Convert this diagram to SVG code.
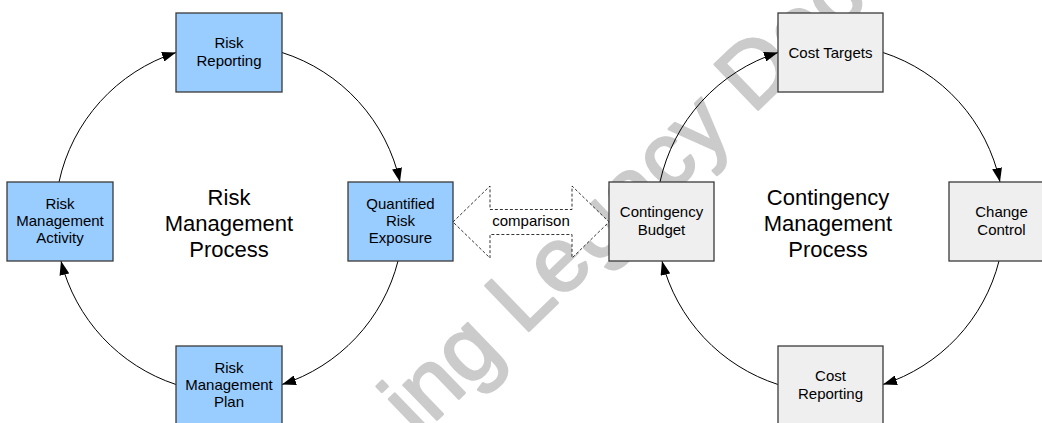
<svg xmlns="http://www.w3.org/2000/svg" width="1042" height="423" viewBox="0 0 1042 423">
  <style>
    .box-blue { fill: #99ccff; stroke: #3a3a3a; stroke-width: 1.3; }
    .box-grey { fill: #efefef; stroke: #3a3a3a; stroke-width: 1.3; }
    .lbl { font-family: "Liberation Sans", Arial, sans-serif; font-size: 15px; fill: #000; text-anchor: middle; }
    .title { font-family: "Liberation Sans", Arial, sans-serif; font-size: 22px; fill: #000; text-anchor: middle; }
    .flow { fill: none; stroke: #000; stroke-width: 1; marker-end: url(#head); }
    .compare { fill: #fff; stroke: #000; stroke-width: 0.8; stroke-dasharray: 3 2; }
    .mark { font-family: "Liberation Sans", Arial, sans-serif; font-size: 91px; fill: #cbcbcb; stroke: #cbcbcb; stroke-width: 2.5; stroke-linejoin: round; }
  </style>
  <defs>
    <marker id="head" markerUnits="userSpaceOnUse" markerWidth="14" markerHeight="10" refX="14" refY="5" orient="auto">
      <path d="M0,0 L14,5 L0,10 z" fill="#000"/>
    </marker>
  </defs>

  <rect width="1042" height="423" fill="#fff"/>

  <!-- background mark -->
  <g id="watermark" transform="translate(418,438) rotate(-44)">
    <text class="mark" x="0" y="0">ing Legacy Docu</text>
  </g>

  <!-- cycle connectors -->
  <g id="connectors">
    <path class="flow" d="M59,182 A175,175 0 0 1 176,52.5"/>
    <path class="flow" d="M282,52.5 A175,175 0 0 1 400,182"/>
    <path class="flow" d="M398,261 A175,175 0 0 1 282,384.5"/>
    <path class="flow" d="M176,384.5 A175,175 0 0 1 61,261"/>

    <path class="flow" d="M660,182 A175,175 0 0 1 778,52.5"/>
    <path class="flow" d="M883,52.5 A175,175 0 0 1 1000,182"/>
    <path class="flow" d="M999,261 A175,175 0 0 1 883,384.5"/>
    <path class="flow" d="M778,384.5 A175,175 0 0 1 662,261"/>

    <!-- double-headed comparison arrow -->
    <path class="compare" d="M453,222 L490,186 L490,209.5 L572,209.5 L572,186 L609,222 L572,258 L572,234.5 L490,234.5 L490,258 Z"/>
    <text class="lbl" x="531" y="226">comparison</text>
  </g>

  <!-- risk management cycle -->
  <g id="risk-reporting">
    <rect class="box-blue" x="176" y="13" width="106" height="79"/>
    <text class="lbl" x="229" y="48.4">Risk</text>
    <text class="lbl" x="229" y="65.6">Reporting</text>
  </g>
  <g id="risk-management-activity">
    <rect class="box-blue" x="7" y="182" width="106" height="79"/>
    <text class="lbl" x="60" y="208.7">Risk</text>
    <text class="lbl" x="60" y="226">Management</text>
    <text class="lbl" x="60" y="243.2">Activity</text>
  </g>
  <g id="quantified-risk-exposure">
    <rect class="box-blue" x="348" y="182" width="105" height="79"/>
    <text class="lbl" x="400.5" y="208.7">Quantified</text>
    <text class="lbl" x="400.5" y="226">Risk</text>
    <text class="lbl" x="400.5" y="243.2">Exposure</text>
  </g>
  <g id="risk-management-plan">
    <rect class="box-blue" x="176" y="346" width="106" height="79"/>
    <text class="lbl" x="229" y="372.7">Risk</text>
    <text class="lbl" x="229" y="390">Management</text>
    <text class="lbl" x="229" y="407.2">Plan</text>
  </g>
  <g id="risk-process-title">
    <text class="title" x="229" y="204.5">Risk</text>
    <text class="title" x="229" y="230.5">Management</text>
    <text class="title" x="229" y="256.5">Process</text>
  </g>

  <!-- contingency management cycle -->
  <g id="cost-targets">
    <rect class="box-grey" x="778" y="13" width="105" height="79"/>
    <text class="lbl" x="830.5" y="57.5">Cost Targets</text>
  </g>
  <g id="contingency-budget">
    <rect class="box-grey" x="609" y="182" width="105" height="79"/>
    <text class="lbl" x="661.5" y="217.4">Contingency</text>
    <text class="lbl" x="661.5" y="234.6">Budget</text>
  </g>
  <g id="change-control">
    <rect class="box-grey" x="949" y="182" width="105" height="79"/>
    <text class="lbl" x="1001.5" y="217.4">Change</text>
    <text class="lbl" x="1001.5" y="234.6">Control</text>
  </g>
  <g id="cost-reporting">
    <rect class="box-grey" x="778" y="346" width="105" height="79"/>
    <text class="lbl" x="830.5" y="381.4">Cost</text>
    <text class="lbl" x="830.5" y="398.6">Reporting</text>
  </g>
  <g id="contingency-process-title">
    <text class="title" x="828" y="204.5">Contingency</text>
    <text class="title" x="828" y="230.5">Management</text>
    <text class="title" x="828" y="256.5">Process</text>
  </g>
</svg>
